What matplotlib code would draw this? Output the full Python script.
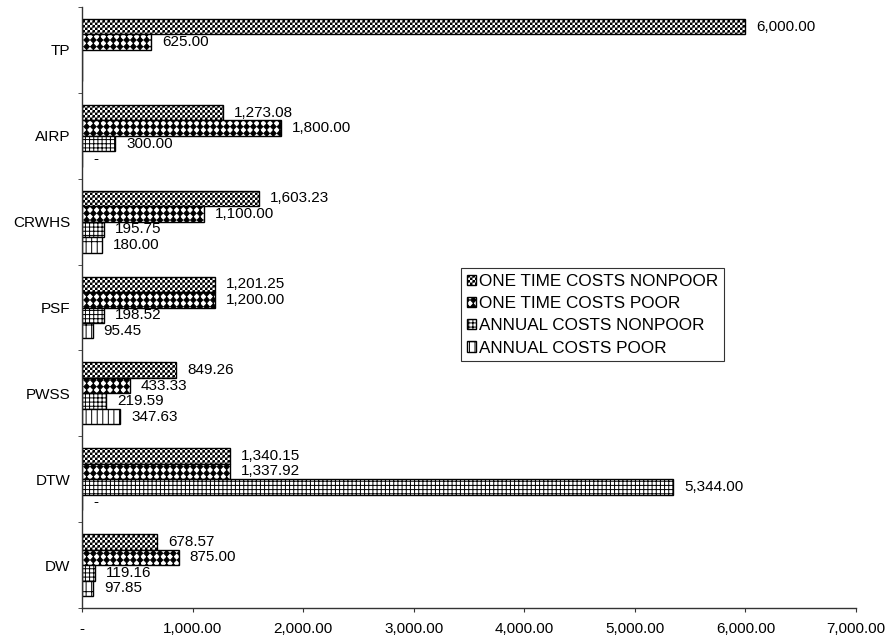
import numpy as np
import matplotlib
matplotlib.use("Agg")
import matplotlib.pyplot as plt
import matplotlib.hatch as mh
from matplotlib.path import Path
from matplotlib.ticker import FuncFormatter, FixedLocator

# ---- data ----
categories = ['DW', 'DTW', 'PWSS', 'PSF', 'CRWHS', 'AIRP', 'TP']
one_time_nonpoor = [678.57, 1340.15, 849.26, 1201.25, 1603.23, 1273.08, 6000.00]
one_time_poor = [875.00, 1337.92, 433.33, 1200.00, 1100.00, 1800.00, 625.00]
annual_nonpoor = [119.16, 5344.00, 219.59, 198.52, 195.75, 300.00, np.nan]
annual_poor = [97.85, 0.0, 347.63, 95.45, 180.00, 0.0, np.nan]
series_names = ['ONE TIME COSTS NONPOOR', 'ONE TIME COSTS POOR',
                'ANNUAL COSTS NONPOOR', 'ANNUAL COSTS POOR']
x_ticks = [0, 1000, 2000, 3000, 4000, 5000, 6000, 7000]


# ---- custom hatch patterns: '*' -> aligned black diamonds, 'O' -> fine checkerboard ----
class _Diamonds(mh.HatchPatternBase):
    def __init__(self, hatch, density):
        self.n = hatch.count('*') * 5
        if self.n:
            self.centers = [(i / self.n, j / self.n)
                            for i in range(self.n + 1) for j in range(self.n + 1)]
        else:
            self.centers = []
        self.num_vertices = len(self.centers) * 5

    def set_vertices_and_codes(self, vertices, codes):
        rx, ry = 0.42 / self.n, 0.44 / self.n
        shape = np.array([[0, ry], [-rx, 0], [0, -ry], [rx, 0], [0, ry]])
        for k, (cx, cy) in enumerate(self.centers):
            vertices[k * 5:(k + 1) * 5] = shape + (cx, cy)
            codes[k * 5] = Path.MOVETO
            codes[k * 5 + 1:(k + 1) * 5] = Path.LINETO


class _Checker(mh.HatchPatternBase):
    def __init__(self, hatch, density):
        self.n = 40 if 'O' in hatch else 0
        self.cells = [(i, j) for i in range(self.n) for j in range(self.n)
                      if (i + j) % 2 == 0]
        self.num_vertices = len(self.cells) * 5

    def set_vertices_and_codes(self, vertices, codes):
        s = 1.0 / self.n
        a = 0.6 * s
        o = (s - a) / 2
        sq = np.array([[0, 0], [a, 0], [a, a], [0, a], [0, 0]]) + o
        for k, (i, j) in enumerate(self.cells):
            vertices[k * 5:(k + 1) * 5] = sq + (i * s, j * s)
            codes[k * 5] = Path.MOVETO
            codes[k * 5 + 1:(k + 1) * 5] = Path.LINETO


_new_types = []
for t in mh._hatch_types:
    if t is mh.Stars:
        _new_types.append(_Diamonds)
    elif t is mh.LargeCircles:
        _new_types.append(_Checker)
    else:
        _new_types.append(t)
mh._hatch_types = _new_types

plt.rcParams['font.family'] = ['Liberation Sans', 'DejaVu Sans']
plt.rcParams['hatch.linewidth'] = 0.7

fig = plt.figure(figsize=(8.88, 6.37), dpi=100)
ax = fig.add_axes([82 / 888, 1 - 608 / 637, 774 / 888, 601 / 637])

series = [one_time_nonpoor, one_time_poor, annual_nonpoor, annual_poor]
hatches = ['O', '***', '++++', '|||-']
offsets = [0.27, 0.09, -0.09, -0.27]
h = 0.18
y = np.arange(len(categories))

handles = []
for vals, hatch, off, name in zip(series, hatches, offsets, series_names):
    v = np.array(vals, dtype=float)
    bars = ax.barh(y + off, np.nan_to_num(v), height=h, color='white',
                   edgecolor='black', linewidth=1.0, hatch=hatch, label=name)
    handles.append(bars)
    for yi, val in zip(y, v):
        if np.isnan(val):
            continue
        txt = '-' if val == 0 else f'{val:,.2f}'
        ax.annotate(txt, (val, yi + off), xytext=(11, 0),
                    textcoords='offset pixels',
                    va='center', ha='left', fontsize=11)

ax.set_xlim(0, 7000)
ax.set_ylim(-0.5, len(categories) - 0.5)
ax.set_xticks(x_ticks)
ax.xaxis.set_major_formatter(FuncFormatter(lambda v, p: '-' if v == 0 else f'{v:,.2f}'))
ax.set_yticks(y)
ax.set_yticklabels(categories)
ax.yaxis.set_minor_locator(FixedLocator(np.arange(-0.5, len(categories), 1.0)))
ax.tick_params(axis='y', which='major', length=0, pad=8.6, labelsize=11)
ax.tick_params(axis='y', which='minor', length=3, color='#333333')
ax.tick_params(axis='x', which='major', length=3, labelsize=11, pad=7, color='#333333')

for s in ['top', 'right']:
    ax.spines[s].set_visible(False)
for s in ['left', 'bottom']:
    ax.spines[s].set_color('#333333')
    ax.spines[s].set_linewidth(1.0)

leg = ax.legend(handles=handles, loc='upper left',
                bbox_to_anchor=((461 - 82) / 774, (608 - 268) / 601),
                borderaxespad=0, fontsize=12.3, frameon=True, fancybox=False,
                handlelength=0.55, handleheight=0.55, handletextpad=0.15,
                borderpad=0.35, labelspacing=0.42, edgecolor='black')
leg.get_frame().set_linewidth(0.8)

fig.savefig('out.png', dpi=100)
